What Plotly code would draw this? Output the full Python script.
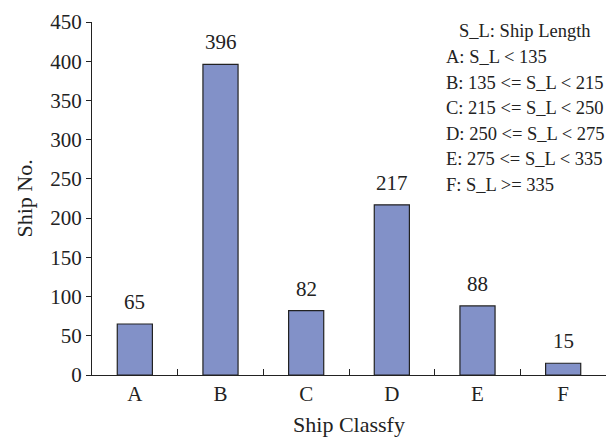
import plotly.graph_objects as go

categories = ["A", "B", "C", "D", "E", "F"]
ship_counts = [65, 396, 82, 217, 88, 15]
y_ticks = [0, 50, 100, 150, 200, 250, 300, 350, 400, 450]
legend_title = "S_L: Ship Length"
legend_lines = [
    "A: S_L &lt; 135",
    "B: 135 &lt;= S_L &lt; 215",
    "C: 215 &lt;= S_L &lt; 250",
    "D: 250 &lt;= S_L &lt; 275",
    "E: 275 &lt;= S_L &lt; 335",
    "F: S_L &gt;= 335",
]

FONT = "Liberation Serif, Times New Roman, serif"
INK = "#222222"
OFF = 8  # page body offset
W, H = 615, 441
L, T = 92 - OFF, 22 - OFF
R = W - (606 - OFF)
B = H - (375 - OFF)
pw, ph = W - L - R, H - T - B

fig = go.Figure(go.Bar(
    x=categories, y=ship_counts, width=0.41,
    marker=dict(color="#8291C8", line=dict(color=INK, width=1.2)),
    cliponaxis=False,
))

def px_to_paper(x, y):
    return (x - OFF - L) / pw, (H - B - (y - OFF)) / ph

anns = []
for c, v in zip(categories, ship_counts):
    anns.append(dict(x=c, y=v, xref="x", yref="y", text=str(v), showarrow=False,
                     xanchor="center", yanchor="bottom", yshift=8,
                     font=dict(family=FONT, size=21, color=INK)))
tx, ty = px_to_paper(525, 31)
anns.append(dict(x=tx, y=ty, xref="paper", yref="paper", text=legend_title,
                 showarrow=False, xanchor="center", yanchor="middle",
                 font=dict(family=FONT, size=18.5, color=INK)))
for i, line in enumerate(legend_lines):
    lx, ly = px_to_paper(444, 57 + i * 25.6)
    anns.append(dict(x=lx, y=ly, xref="paper", yref="paper", text=line,
                     showarrow=False, xanchor="left", yanchor="middle",
                     font=dict(family=FONT, size=18.5, color=INK)))

fig.update_layout(
    width=W, height=H,
    margin=dict(l=L, r=R, t=T, b=B),
    plot_bgcolor="white", paper_bgcolor="white",
    showlegend=False,
    font=dict(family=FONT, color=INK),
    annotations=anns,
    xaxis=dict(
        type="category", tickson="boundaries", ticks="inside", ticklen=6,
        tickcolor=INK, tickwidth=1.2, automargin=False,
        showline=True, linecolor=INK, linewidth=1.2,
        showgrid=False, tickfont=dict(family=FONT, size=21, color=INK),
        title=dict(text="Ship Classfy", font=dict(family=FONT, size=22, color=INK), standoff=11),
        range=[-0.5, 5.5],
    ),
    yaxis=dict(
        range=[0, 450], tickvals=y_ticks, ticks="outside", ticklen=5,
        tickcolor=INK, tickwidth=1.2, automargin=False,
        showline=True, linecolor=INK, linewidth=1.2,
        showgrid=False, zeroline=False,
        tickfont=dict(family=FONT, size=21, color=INK),
        title=dict(text="Ship No.", font=dict(family=FONT, size=22, color=INK), standoff=11),
    ),
)

fig.write_html("out.html")
